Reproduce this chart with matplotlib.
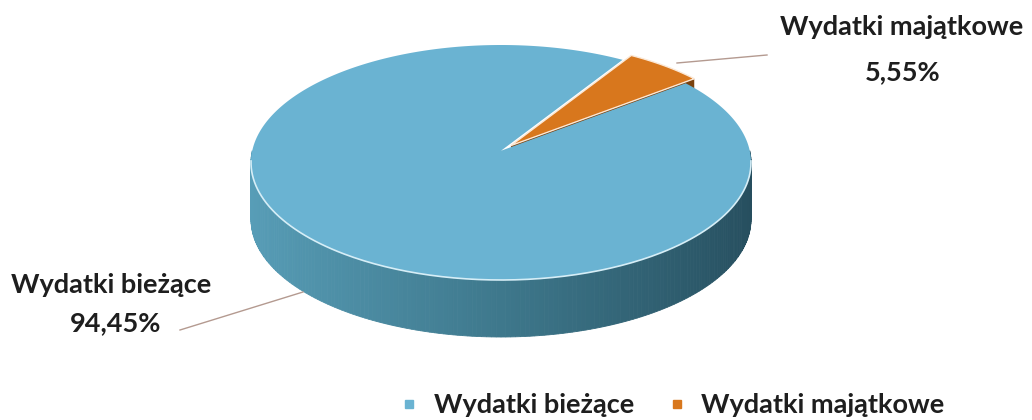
import numpy as np
import matplotlib.pyplot as plt
from matplotlib.patches import Polygon
from matplotlib.lines import Line2D

# ---- data ----
categories = ["Wydatki bieżące", "Wydatki majątkowe"]
values = [94.45, 5.55]
value_labels = ["94,45%", "5,55%"]
top_colors = ["#6ab3d2", "#d8771d"]
side_colors = ["#3f7a8c", "#7a420f"]

plt.rcParams['font.family'] = ['Lato', 'DejaVu Sans']

fig = plt.figure(figsize=(10.32, 4.2), dpi=100)
ax = fig.add_axes([0, 0, 1, 1])
ax.set_xlim(0, 1032)
ax.set_ylim(420, 0)
ax.axis('off')

# ---- 3D pie geometry (perspective projection of a disk) ----
CX = 501.0
K = 0.10
RX_EXT, RY_HALF = 250.0, 117.5
A = RX_EXT * np.sqrt(1 - K ** 2)
B = RY_HALF * (1 - K ** 2)
C0 = 162.5 - RY_HALF * K
DEPTH = 57.0
START_CW = 52.0   # first slice angle, clockwise from 12 o'clock
EXPLODE = [0.0, 0.06]


def proj(u, v, z=0.0):
    w = 1 + K * v
    return CX + A * u / w, C0 - B * v / w + z


def arc_pts(t0, t1, off=(0, 0), z=0.0, n=200):
    ts = np.radians(np.linspace(t0, t1, n))
    return [proj(np.cos(t) + off[0], np.sin(t) + off[1], z) for t in ts]


total = sum(values)
spans = [v / total * 360 for v in values]
slices = []
cw = START_CW
for s in spans:
    a_end = 90 - cw
    a_start = 90 - (cw + s)
    slices.append((a_start, a_end))
    cw += s

# blue side wall (front half), shaded by position
ts = np.linspace(180, 360, 181)
c_left = np.array([88, 158, 184]) / 255
c_mid = np.array([62, 120, 140]) / 255
c_right = np.array([38, 78, 94]) / 255
for t0, t1 in zip(ts[:-1], ts[1:]):
    p = arc_pts(t0, t1, n=4)
    q = arc_pts(t1, t0, z=DEPTH, n=4)
    f = (np.cos(np.radians((t0 + t1) / 2)) + 1) / 2
    col = c_left + (c_mid - c_left) * (f / 0.5) if f < 0.5 else c_mid + (c_right - c_mid) * ((f - 0.5) / 0.5)
    ax.add_patch(Polygon(p + q, closed=True, facecolor=col, edgecolor=col, lw=0.6, zorder=1))

# orange radial side face (visible bit of exploded slice)
a0, a1 = slices[1]
mid = np.radians((a0 + a1) / 2)
off = (EXPLODE[1] * np.cos(mid), EXPLODE[1] * np.sin(mid))
ra = np.radians(a0)
face = [proj(off[0], off[1]), proj(np.cos(ra) + off[0], np.sin(ra) + off[1]),
        proj(np.cos(ra) + off[0], np.sin(ra) + off[1], DEPTH), proj(off[0], off[1], DEPTH)]
ax.add_patch(Polygon(face, closed=True, facecolor=side_colors[1], edgecolor='none', zorder=2))

# blue top face
b0, b1 = slices[0]
blue_top = [proj(0, 0)] + arc_pts(b0, b1, n=400)
ax.add_patch(Polygon(blue_top, closed=True, facecolor=top_colors[0], edgecolor='none', zorder=3))
hl = np.array(arc_pts(185, 355))
ax.plot(hl[:, 0], hl[:, 1], color='#d6eef7', lw=1.2, zorder=4)

# orange top face
orange_top = [proj(off[0], off[1])] + arc_pts(a0, a1, off=off, n=60)
ax.add_patch(Polygon(orange_top, closed=True, facecolor=top_colors[1], edgecolor='#fbe8d6',
                     lw=1.0, zorder=5))

# ---- leader lines & labels ----
ax.plot([677, 767], [63, 55], color='#b49a90', lw=1.0, zorder=6)
ax.plot([303, 180], [292, 330], color='#b49a90', lw=1.0, zorder=6)

txt_kw = dict(fontsize=19.5, fontweight='bold', color='#1e1e1e', ha='center', va='center')
ax.text(902, 27, categories[1], **txt_kw)
ax.text(903, 72, value_labels[1], **txt_kw)
ax.text(111, 285, categories[0], **txt_kw)
ax.text(116, 323, value_labels[0], **txt_kw)

# ---- legend ----
handles = [Line2D([], [], marker='s', ls='none', markersize=6, markerfacecolor=c,
                  markeredgecolor=c) for c in top_colors]
leg = ax.legend(handles, categories, loc='center', bbox_to_anchor=(0.652, 0.035),
                ncol=2, frameon=False, prop={'size': 19.5, 'weight': 'bold'},
                handlelength=0.6, handletextpad=0.6, columnspacing=1.3)
for t in leg.get_texts():
    t.set_color('#1e1e1e')

fig.savefig('out.png', dpi=100, facecolor='white')
